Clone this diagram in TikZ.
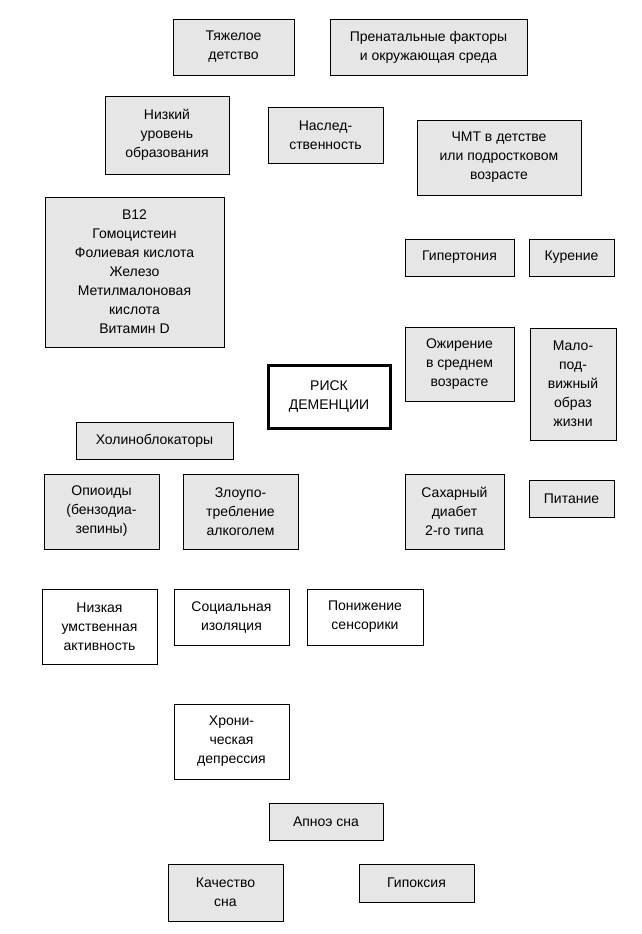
\documentclass[tikz,border=0pt]{standalone}
\usepackage{fontspec}
\setmainfont{Liberation Sans}
\usetikzlibrary{arrows.meta,backgrounds}
\definecolor{boxgray}{HTML}{E6E6E6}
\tikzset{
  bx/.style={draw, line width=0.9pt, fill=boxgray, align=center, inner sep=0pt, font=\fontsize{14}{19}\selectfont},
  wbx/.style={bx, fill=white},
  arr/.style={line width=0.7pt, -{Stealth[length=8pt,width=6.5pt,inset=2pt]}},
  darr/.style={line width=0.8pt, {Stealth[length=8pt,width=6.5pt,inset=2pt]}-{Stealth[length=8pt,width=6.5pt,inset=2pt]}},
  ln/.style={line width=0.7pt},
  loop/.style={line width=1pt, draw=black!75},
}
\newcommand{\bxx}[7]{\node[#7, minimum width={(#4-#2)*1pt}, minimum height={(#5-#3)*1pt}] (#1) at ({(#2+#4)/2},{(#3+#5)/2}) {#6};}
\begin{document}
\begin{tikzpicture}[x=1pt,y=-1pt]
\useasboundingbox[fill=white] (0,0) rectangle (641,934);
\bxx{tyazh}{173}{19}{294}{75}{Тяжелое\\детство}{bx}
\bxx{prenat}{330}{19}{527}{75}{Пренатальные факторы\\и окружающая среда}{bx}
\bxx{nizk}{105}{96}{229}{174}{Низкий\\уровень\\образования}{bx}
\bxx{nasl}{268}{107}{383}{163}{Наслед-\\ственность}{bx}
\bxx{chmt}{417}{120}{581}{195}{ЧМТ в детстве\\или подростковом\\возрасте}{bx}
\bxx{b12}{45}{197}{224}{347}{B12\\Гомоцистеин\\Фолиевая кислота\\Железо\\Метилмалоновая\\кислота\\Витамин D}{bx}
\bxx{gip}{405}{239}{514}{276}{Гипертония}{bx}
\bxx{kur}{529}{239}{614}{276}{Курение}{bx}
\bxx{ozh}{405}{327}{514}{401}{Ожирение\\в среднем\\возрасте}{bx}
\bxx{malo}{530}{328}{616}{440}{Мало-\\под-\\вижный\\образ\\жизни}{bx}
\bxx{risk}{268}{365}{390}{428}{РИСК\\ДЕМЕНЦИИ}{wbx, line width=3pt}
\bxx{hol}{76}{422}{233}{459}{Холиноблокаторы}{bx}
\bxx{opi}{44}{474}{159}{549}{Опиоиды\\(бензодиа-\\зепины)}{bx}
\bxx{zlo}{183}{474}{298}{549}{Злоупо-\\требление\\алкоголем}{bx}
\bxx{sah}{405}{474}{504}{549}{Сахарный\\диабет\\2-го типа}{bx}
\bxx{pit}{529}{480}{614}{517}{Питание}{bx}
\bxx{nizu}{42}{589}{157}{664}{Низкая\\умственная\\активность}{wbx}
\bxx{soc}{174}{589}{289}{645}{Социальная\\изоляция}{wbx}
\bxx{pon}{307}{589}{423}{645}{Понижение\\сенсорики}{wbx}
\bxx{hron}{174}{704}{289}{779}{Хрони-\\ческая\\депрессия}{wbx}
\bxx{apn}{269}{803}{383}{840}{Апноэ сна}{bx}
\bxx{kach}{168}{864}{283}{921}{Качество\\сна}{bx}
\bxx{gipo}{359}{864}{474}{902}{Гипоксия}{bx}
\begin{scope}[on background layer]
\draw[arr] ([yshift=-14pt]b12.east) -- (risk.north west);
\draw[arr] ([xshift=17.5pt]tyazh.south) -- ([xshift=-47pt]risk.north);
\draw[arr] ([xshift=46pt]nizk.south) -- ([xshift=-14pt]risk.north);
\draw[arr] ([xshift=5.5pt]nasl.south) -- ([xshift=2pt]risk.north);
\draw[arr] ([xshift=-36.5pt]prenat.south) -- ([xshift=46pt]risk.north);
\draw[arr] ([xshift=-55pt]chmt.south) -- ([xshift=51pt]risk.north);
\draw[arr] ([xshift=-49.5pt]gip.south) -- ([xshift=55pt]risk.north);
\draw[arr] ([yshift=2pt]ozh.west) -- ([yshift=24pt]risk.east);
\draw[arr] ([yshift=-21pt]ozh.west) -- (risk.east);
\draw[arr] (hol.east) -- ([yshift=-10pt]risk.west);
\draw[arr,loop] ([yshift=24.5pt]opi.west) -- ++(-13,0) |- ([yshift=7.5pt]risk.west);
\draw[arr] ([xshift=37.5pt]zlo.north) -- ([xshift=-38pt]risk.south);
\draw[darr] (opi.east) -- (zlo.west);
\draw[arr] ([xshift=-32.5pt]opi.south) -- ([xshift=-39.5pt]nizu.north);
\draw[arr,loop] ([xshift=34.5pt]zlo.south) -- ++(0,20) -- ++(-271,0) -- ++(0,-565) -- ++(597,0) -- ++(0,205) -- ++(-131,0) -- ([xshift=10.5pt]gip.north);
\draw[arr] (kur.west) -- (gip.east);
\draw[arr] ([xshift=-5.5pt]kur.south) -- ([xshift=-7pt]malo.north);
\draw[arr,loop] (kur.east) -- ++(26,0) |- (gipo.east);
\draw[arr] ([xshift=-29pt]malo.north) -- ([xshift=35.5pt]gip.south);
\draw[ln] ([xshift=-3.5pt]ozh.north) -- (kur.south west);
\draw[arr] ([yshift=45pt]malo.west) -- ([yshift=25pt]ozh.east);
\draw[arr] ([yshift=-2pt]ozh.east) -- ([yshift=18pt]malo.west);
\draw[darr] ([xshift=-2pt]malo.south) -- ([xshift=-0.5pt]pit.north);
\draw[arr] ([xshift=-37.5pt]pit.north) -- ([xshift=34.5pt]ozh.south);
\draw[arr] ([xshift=-29pt]malo.south) -- (sah.north east);
\draw[arr] (pit.west) -- (pit.west -| sah.east);
\draw[arr] ([xshift=2.5pt]ozh.south) -- ([xshift=19.5pt]sah.north);
\draw[ln] ([xshift=-30.5pt]ozh.south) -- ([xshift=-35.5pt]sah.north);
\draw[arr,loop] ([yshift=4pt]malo.east) -- ++(13,0) -- ++(0,189) -| ([xshift=6.5pt]sah.south);
\draw[arr,loop] ([yshift=12.5pt]apn.east) -| ([xshift=-3.5pt]sah.south);
\draw[arr] ([yshift=21.5pt]sah.west) -- ([xshift=57pt]risk.south);
\draw[ln] ([xshift=33.5pt]gipo.north) -- ([xshift=4pt]sah.south west);
\draw[arr] ([xshift=35pt]apn.north) -- ([xshift=8pt]risk.south);
\draw[arr] ([xshift=-10pt]pon.north) -- ([xshift=16pt]risk.south);
\draw[arr] ([xshift=30pt]pon.north) -- ([xshift=33pt]risk.south);
\draw[arr] (pon.west) -- (soc.east);
\draw[arr] ([xshift=30pt]pon.south) -- ([xshift=50pt]apn.north);
\draw[arr] ([xshift=-50pt]pon.south) -- ([xshift=27.5pt]kach.north);
\draw[darr] ([xshift=-1.5pt]soc.south) -- ([xshift=-1.5pt]hron.north);
\draw[arr] ([yshift=25.5pt]hron.west) -- ([xshift=37.5pt]nizu.south);
\draw[arr] ([xshift=-24pt]apn.south) -- ([xshift=-1pt]kach.north east);
\draw[arr] (apn.east) -- ([xshift=6.5pt]gipo.north);
\draw[arr] (gipo.west) -- (gipo.west -| kach.east);
\draw[arr,loop] ([xshift=6.5pt]gipo.south) -- ++(0,31) -- ++(-289,0) |- ([yshift=-15.5pt]hron.west);
\end{scope}
\end{tikzpicture}
\end{document}
